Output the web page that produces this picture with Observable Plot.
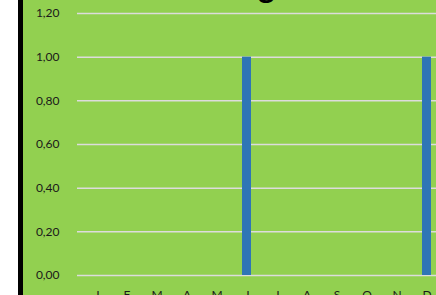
<!DOCTYPE html>
<html>
<head>
<meta charset="utf-8">
<script src="https://cdn.jsdelivr.net/npm/d3@7"></script>
<script src="https://cdn.jsdelivr.net/npm/@observablehq/plot@0.6"></script>
<style>
  html, body { margin: 0; padding: 0; background: #ffffff; overflow: hidden; width: 436px; height: 295px; }
  #border { position: absolute; left: 18px; top: 0; width: 5px; height: 295px; background: #000000; }
  #chart { position: absolute; left: 23px; top: 0; width: 413px; height: 295px; overflow: hidden; background: #92D050; }
  #chart svg { display: block; }
</style>
</head>
<body>
<div id="border"></div>
<div id="chart"></div>
<script>
const monthIndex = [0, 1, 2, 3, 4, 5, 6, 7, 8, 9, 10, 11];
const monthLabels = ["J", "F", "M", "A", "M", "J", "J", "A", "S", "O", "N", "D"];
const values = [0, 0, 0, 0, 0, 1, 0, 0, 0, 0, 0, 1];
const yTicks = [0, 0.2, 0.4, 0.6, 0.8, 1.0, 1.2];
const titleText = "g";

const data = monthIndex.map((i) => ({ m: i, v: values[i] }));
const fmt = (d) => d.toFixed(2).replace(".", ",");

const plot = Plot.plot({
  width: 413,
  height: 310,
  marginLeft: 54,
  marginRight: 0,
  marginTop: 13,
  marginBottom: 35,
  style: { background: "transparent", fontFamily: "Lato, 'Open Sans', sans-serif", fontSize: "12px", color: "#1a1a1a", overflow: "hidden" },
  x: { type: "band", domain: monthIndex, range: [54, 422], paddingInner: 0.7, paddingOuter: 0.35, label: null },
  y: { domain: [0, 1.2], range: [275, 13], label: null },
  marks: [
    Plot.ruleY(yTicks, { stroke: "#DCDCDC", strokeWidth: 1.5 }),
    Plot.barY(data, { x: "m", y: "v", fill: "#2E75B6" }),
    Plot.axisY(yTicks, { tickSize: 0, tickPadding: 18, tickFormat: fmt, fill: "#1a1a1a", fontSize: 12, label: null }),
    Plot.axisX(monthIndex, { tickSize: 0, tickPadding: 15, tickFormat: (i) => monthLabels[i], fill: "#1a1a1a", fontSize: 12, label: null }),
    Plot.text([titleText], { frameAnchor: "top-left", dx: 189, dy: -16, text: (d) => d, fontSize: 32, fontWeight: "bold", fill: "#000000", textAnchor: "middle", lineAnchor: "bottom" })
  ]
});
document.getElementById("chart").appendChild(plot);
</script>
</body>
</html>
